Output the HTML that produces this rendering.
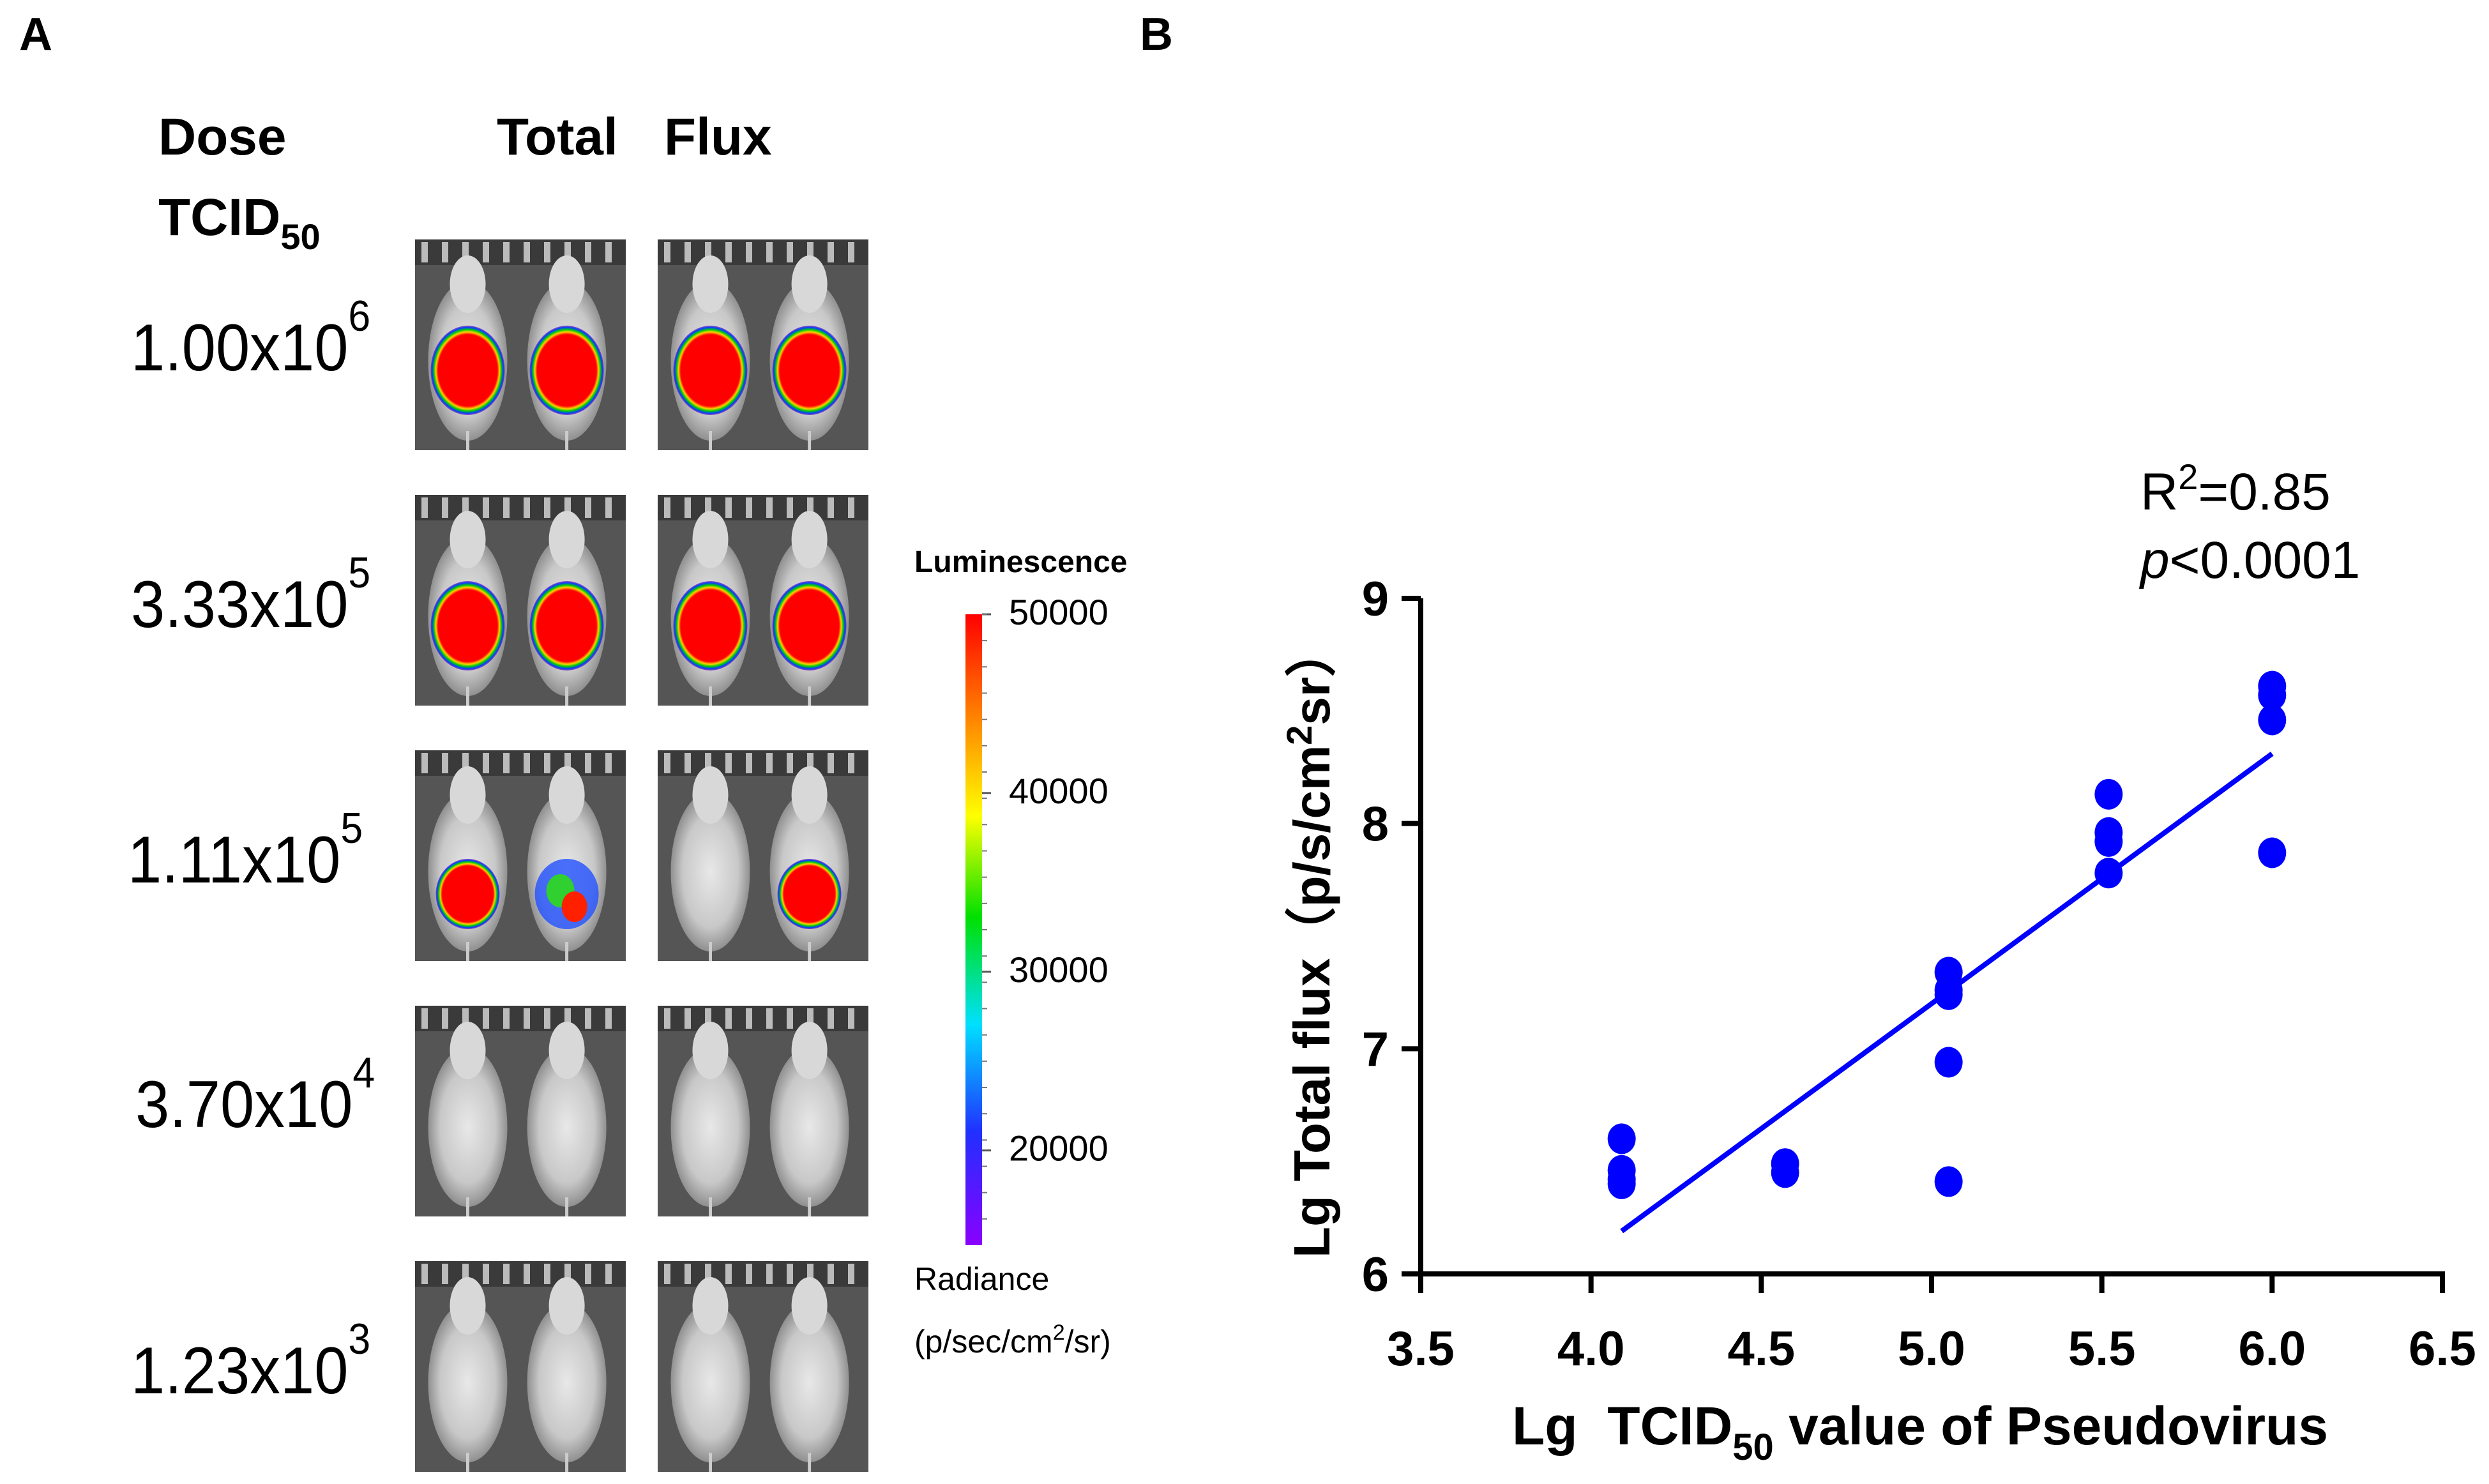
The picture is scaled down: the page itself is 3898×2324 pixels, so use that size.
<!DOCTYPE html>
<html><head><meta charset="utf-8"><style>
html,body{margin:0;padding:0;background:#fff}
svg{display:block}
text{font-family:"Liberation Sans",Arial,sans-serif}
</style></head><body>
<svg id="fig" width="3898" height="2324" viewBox="0 0 3898 2324" xmlns="http://www.w3.org/2000/svg">
<defs>
<linearGradient id="cb" x1="0" y1="1" x2="0" y2="0">
<stop offset="0" stop-color="#8a00ff"/><stop offset="0.18" stop-color="#2030ff"/><stop offset="0.35" stop-color="#00e0ff"/><stop offset="0.52" stop-color="#00e000"/><stop offset="0.68" stop-color="#ffff00"/><stop offset="0.82" stop-color="#ff9000"/><stop offset="1" stop-color="#ff0000"/>
</linearGradient>
<radialGradient id="sig"><stop offset="0.8" stop-color="#ff0000"/><stop offset="0.86" stop-color="#ffd000"/><stop offset="0.91" stop-color="#00d000"/><stop offset="0.96" stop-color="#0040ff"/><stop offset="1" stop-color="#6000c0" stop-opacity="0.6"/></radialGradient>
<radialGradient id="body"><stop offset="0" stop-color="#e8e8e8"/><stop offset="0.7" stop-color="#c8c8c8"/><stop offset="1" stop-color="#909090"/></radialGradient>
</defs>
<text x="30" y="78" font-size="72" font-weight="bold">A</text>
<text x="1785" y="78" font-size="72" font-weight="bold">B</text>
<text x="248" y="242" font-size="82" font-weight="bold">Dose</text>
<text x="248" y="368" font-size="82" font-weight="bold">TCID<tspan font-size="56" dy="22">50</tspan></text>
<text x="778" y="242" font-size="82" font-weight="bold">Total</text>
<text x="1040" y="242" font-size="82" font-weight="bold">Flux</text>
<g id="mice"></g>
<g id="doses"></g>
<text x="1432" y="896" font-size="48" font-weight="bold">Luminescence</text>
<rect x="1512" y="962" width="26" height="988" fill="url(#cb)"/>
<g id="cbticks"></g>
<text x="1432" y="2020" font-size="50">Radiance</text>
<text x="1432" y="2118" font-size="50">(p/sec/cm<tspan font-size="34" dy="-20">2</tspan><tspan dy="20">/sr)</tspan></text>
<g id="chart"></g>
</svg>
<script>
const NS='http://www.w3.org/2000/svg';
function mk(tag,attrs,parent){const e=document.createElementNS(NS,tag);for(const k in attrs)e.setAttribute(k,attrs[k]);parent.appendChild(e);return e;}

const mice=document.getElementById('mice');
const rowsY=[375,775,1175,1575,1975];
const colsX=[650,1030];
const sigMap=[[[1,1],[1,1]],[[1,1],[1,1]],[[2,3],[0,2]],[[0,0],[0,0]],[[0,0],[0,0]]];
rowsY.forEach((ry,ri)=>{colsX.forEach((cx,ci)=>{
  const g=mk('g',{},mice);
  
  
  mk('rect',{x:cx,y:ry,width:330,height:330,fill:'#555'},g);
  mk('rect',{x:cx,y:ry,width:330,height:40,fill:'#3a3a3a'},g);
  for(let i=0;i<10;i++)mk('rect',{x:cx+10+i*32,y:ry+4,width:10,height:32,fill:'#bbb'},g);
  [0.25,0.72].forEach((fx,mi)=>{
    const mx=cx+330*fx;
    mk('ellipse',{cx:mx,cy:ry+190,rx:62,ry:125,fill:'url(#body)'},g);
    mk('ellipse',{cx:mx,cy:ry+70,rx:28,ry:45,fill:'#d8d8d8'},g);
    mk('line',{x1:mx,y1:ry+300,x2:mx,y2:ry+330,stroke:'#ccc','stroke-width':5},g);
    const s=sigMap[ri][ci][mi];
    if(s===1)mk('ellipse',{cx:mx,cy:ry+205,rx:58,ry:70,fill:'url(#sig)'},g);
    if(s===2)mk('ellipse',{cx:mx,cy:ry+225,rx:50,ry:55,fill:'url(#sig)'},g);
    if(s===3){mk('ellipse',{cx:mx,cy:ry+225,rx:50,ry:55,fill:'#2050ff',opacity:0.8},g);
      mk('ellipse',{cx:mx-10,cy:ry+220,rx:22,ry:26,fill:'#30d030'},g);
      mk('ellipse',{cx:mx+12,cy:ry+245,rx:20,ry:24,fill:'#ff2000'},g);}
  });
});});

const doses=document.getElementById('doses');
const doseMant=['1.00x10','3.33x10','1.11x10','3.70x10','1.23x10'];
const doseExp=['6','5','5','4','3'];
const doseY=[580,982,1382,1765,2182];
const doseX=[205,205,200,212,205];
doseMant.forEach((m,i)=>{
  const x=doseX[i];
  const t=mk('text',{x:x,y:doseY[i],'font-size':104,transform:'translate('+x+' 0) scale(0.92 1) translate('+(-x)+' 0)'},doses);
  
  
  t.textContent=m;
  const e=mk('tspan',{'font-size':68,dy:-62},t);e.textContent=doseExp[i];
});

const cbt=document.getElementById('cbticks');
const cbLabels=['50000','40000','30000','20000'];
const cbVals=[50000,40000,30000,20000];
const cbY=v=>962+(50000-v)/(50000-14700)*988;
cbVals.forEach((v,i)=>{
  const y=cbY(v);
  mk('line',{x1:1538,y1:y,x2:1552,y2:y,stroke:'#555','stroke-width':3},cbt);
  const t=mk('text',{x:1580,y:y+16,'font-size':56},cbt);
  
  
  t.textContent=cbLabels[i];
});
for(let i=0;i<24;i++){const y=962+i*988/24;mk('line',{x1:1538,y1:y,x2:1546,y2:y,stroke:'#777','stroke-width':2},cbt);}
</script>
<script>
const xTicks=[3.5,4.0,4.5,5.0,5.5,6.0,6.5];
const xTickLabels=['3.5','4.0','4.5','5.0','5.5','6.0','6.5'];
const yTicks=[6,7,8,9];
const yTickLabels=['6','7','8','9'];
const pointX=[4.09,4.09,4.09,4.09,4.57,4.57,5.05,5.05,5.05,5.05,5.05,5.52,5.52,5.52,5.52,6.0,6.0,6.0,6.0];
const fluxY=[6.60,6.46,6.42,6.40,6.49,6.45,7.34,7.26,7.24,6.94,6.41,8.13,7.96,7.92,7.78,8.61,8.57,8.46,7.87];
const fitX=[4.09,6.0];
const fitY=[6.19,8.31];

const X0=2225,X1=3825,Y0=1995,Y1=937;
const sx=v=>X0+(v-3.5)/(6.5-3.5)*(X1-X0);
const sy=v=>Y0-(v-6)/(9-6)*(Y0-Y1);
const ch=document.getElementById('chart');
function m(tag,a){const e=document.createElementNS('http://www.w3.org/2000/svg',tag);for(const k in a)e.setAttribute(k,a[k]);ch.appendChild(e);return e;}

let e=m('line',{x1:X0,y1:Y0,x2:X1+4,y2:Y0,stroke:'#000','stroke-width':8});


e=m('line',{x1:X0,y1:Y1,x2:X0,y2:Y0+4,stroke:'#000','stroke-width':8});


xTicks.forEach((v,i)=>{
  m('line',{x1:sx(v),y1:Y0,x2:sx(v),y2:Y0+30,stroke:'#000','stroke-width':8});
  const t=m('text',{x:sx(v),y:2138,'font-size':76,'font-weight':'bold','text-anchor':'middle'});
  
  
  t.textContent=xTickLabels[i];
});
yTicks.forEach((v,i)=>{
  m('line',{x1:X0-30,y1:sy(v),x2:X0,y2:sy(v),stroke:'#000','stroke-width':8});
  const t=m('text',{x:X0-50,y:sy(v)+27,'font-size':76,'font-weight':'bold','text-anchor':'end'});
  
  
  t.textContent=yTickLabels[i];
});
const fl=m('line',{x1:sx(fitX[0]),y1:sy(fitY[0]),x2:sx(fitX[1]),y2:sy(fitY[1]),stroke:'#0000ff','stroke-width':8});


pointX.forEach((x,i)=>{
  const c=m('ellipse',{cx:sx(x),cy:sy(fluxY[i]),rx:22,ry:24,fill:'#0000ff'});
  
  
});
let t=m('text',{x:2368,y:2262,'font-size':84,'font-weight':'bold'});


t.innerHTML='Lg&#160; TCID<tspan font-size="58" dy="24">50</tspan><tspan dy="-24"> value of Pseudovirus</tspan>';
t=m('text',{x:0,y:0,'font-size':80,'font-weight':'bold','text-anchor':'middle',transform:'translate(2082 1475) rotate(-90)'});


t.innerHTML='Lg Total flux（p/s/cm<tspan font-size="56" dy="-28">2</tspan><tspan dy="28">sr）</tspan>';
t=m('text',{x:3352,y:798,'font-size':82});


t.innerHTML='R<tspan font-size="56" dy="-32">2</tspan><tspan dy="32">=0.85</tspan>';
t=m('text',{x:3352,y:905,'font-size':82});


t.innerHTML='<tspan font-style="italic">p</tspan>&lt;0.0001';
</script>
</body></html>
